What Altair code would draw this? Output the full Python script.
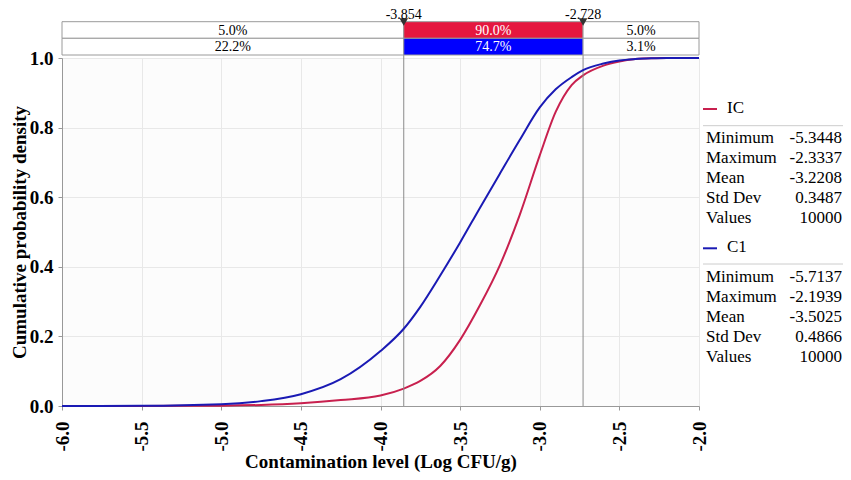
import altair as alt
import pandas as pd

# ---------------- data ----------------
ic_x = [-6.0, -5.5, -5.0, -4.75, -4.5, -4.25, -4.0, -3.854, -3.75, -3.625, -3.5, -3.375,
        -3.25, -3.125, -3.0, -2.9, -2.8, -2.728, -2.6, -2.5, -2.4, -2.3, -2.2, -2.0]
ic_p = [0.0, 0.0003, 0.001, 0.003, 0.008, 0.017, 0.03, 0.05, 0.072, 0.115, 0.19, 0.29,
        0.405, 0.55, 0.72, 0.845, 0.922, 0.95, 0.978, 0.99, 0.997, 0.9995, 1.0, 1.0]

c1_x = [-6.0, -5.5, -5.0, -4.75, -4.5, -4.25, -4.0, -3.854, -3.75, -3.625, -3.5, -3.375,
        -3.25, -3.125, -3.0, -2.9, -2.8, -2.728, -2.6, -2.5, -2.4, -2.3, -2.2, -2.0]
c1_p = [0.0, 0.0005, 0.005, 0.014, 0.034, 0.077, 0.158, 0.222, 0.285, 0.375, 0.47, 0.57,
        0.668, 0.765, 0.858, 0.91, 0.945, 0.965, 0.984, 0.993, 0.997, 0.999, 1.0, 1.0]

x_ticks = [-6.0, -5.5, -5.0, -4.5, -4.0, -3.5, -3.0, -2.5, -2.0]
y_ticks = [0.0, 0.2, 0.4, 0.6, 0.8, 1.0]

bounds = [-6.0, -3.854, -2.728, -2.0]
marker_labels = ["-3.854", "-2.728"]
ic_pct = ["5.0%", "90.0%", "5.0%"]
c1_pct = ["22.2%", "74.7%", "3.1%"]

series_names = ["IC", "C1"]
stat_names = ["Minimum", "Maximum", "Mean", "Std Dev", "Values"]
ic_stats = ["-5.3448", "-2.3337", "-3.2208", "0.3487", "10000"]
c1_stats = ["-5.7137", "-2.1939", "-3.5025", "0.4866", "10000"]

# ---------------- styling ----------------
FONT = "Liberation Serif"
IC_COLOR = "#c8204e"
C1_COLOR = "#1a1ab4"
BAR_RED = "#e5173f"
BAR_BLUE = "#0000ff"
W, H = 637, 348

ic_df = pd.DataFrame({"x": ic_x, "p": ic_p})
c1_df = pd.DataFrame({"x": c1_x, "p": c1_p})

rows = []
for name, pcts in zip(series_names, [ic_pct, c1_pct]):
    for i in range(3):
        rows.append({
            "row": name,
            "x0": bounds[i],
            "x1": bounds[i + 1],
            "xm": (bounds[i] + bounds[i + 1]) / 2,
            "kind": name if i == 1 else "tail",
            "pct": pcts[i],
        })
bar_df = pd.DataFrame(rows)
mark_df = pd.DataFrame({"x": bounds[1:3], "label": marker_labels})

x_scale = alt.Scale(domain=[-6.0, -2.0], nice=False, zero=False)
y_scale = alt.Scale(domain=[0.0, 1.0], nice=False)

minus_fix = "datum.value < 0 ? '-' + format(-datum.value, '.1f') : format(datum.value, '.1f')"

x_axis = alt.Axis(
    values=x_ticks, labelExpr=minus_fix, labelAngle=-90, labelAlign="right",
    labelBaseline="middle", labelFont=FONT, labelFontWeight="bold", labelFontSize=19,
    labelColor="black", labelPadding=11, tickSize=4, tickColor="#999999",
    domainColor="#999999", gridColor="#e8e8e8",
    title="Contamination level (Log CFU/g)", titleFont=FONT, titleFontSize=19,
    titleFontWeight="bold", titleColor="black",
    titleBaseline="alphabetic", titleY=61,
)
y_axis = alt.Axis(
    values=y_ticks, format=".1f", labelFont=FONT, labelFontWeight="bold",
    labelFontSize=19, labelColor="black", labelPadding=5, tickSize=4,
    tickColor="#999999", domainColor="#999999", gridColor="#e8e8e8",
    title="Cumulative probability density", titleFont=FONT, titleFontSize=19,
    titleFontWeight="bold", titleColor="black", titlePadding=0,
)

ic_line = alt.Chart(ic_df).mark_line(
    color=IC_COLOR, strokeWidth=2, interpolate="monotone"
).encode(
    x=alt.X("x:Q", scale=x_scale, axis=x_axis),
    y=alt.Y("p:Q", scale=y_scale, axis=y_axis),
)
c1_line = alt.Chart(c1_df).mark_line(
    color=C1_COLOR, strokeWidth=2, interpolate="monotone"
).encode(
    x=alt.X("x:Q", scale=x_scale),
    y=alt.Y("p:Q", scale=y_scale),
)

vrules = alt.Chart(mark_df).mark_rule(color="#8a8a8a", strokeWidth=1).encode(
    x=alt.X("x:Q", scale=x_scale), y=alt.value(-3), y2=alt.value(H)
)

fill_scale = alt.Scale(domain=["tail", "IC", "C1"], range=["#ffffff", BAR_RED, BAR_BLUE])
txt_scale = alt.Scale(domain=["tail", "IC", "C1"], range=["#000000", "#ffffff", "#ffffff"])

row_y = {"IC": (-36.3, -19.7), "C1": (-19.7, -3.0)}
bar_layers = []
for name in series_names:
    y0, y1 = row_y[name]
    base = alt.Chart(bar_df).transform_filter(alt.datum.row == name)
    bar_layers.append(
        base.mark_rect(stroke="#9a9a9a", strokeWidth=1).encode(
            x=alt.X("x0:Q", scale=x_scale), x2="x1:Q",
            y=alt.value(y0), y2=alt.value(y1),
            fill=alt.Fill("kind:N", scale=fill_scale, legend=None),
        )
    )
    bar_layers.append(
        base.mark_text(font=FONT, fontSize=14, baseline="middle").encode(
            x=alt.X("xm:Q", scale=x_scale),
            y=alt.value((y0 + y1) / 2 + 0.5),
            text="pct:N",
            color=alt.Color("kind:N", scale=txt_scale, legend=None),
        )
    )

triangles = alt.Chart(mark_df).mark_point(
    shape="triangle-down", filled=True, color="#333333", size=75, opacity=1
).encode(x=alt.X("x:Q", scale=x_scale), y=alt.value(-36))
tri_labels = alt.Chart(mark_df).mark_text(
    font=FONT, fontSize=14, baseline="middle", color="black"
).encode(x=alt.X("x:Q", scale=x_scale), y=alt.value(-43.5), text="label:N")

# ---------------- side statistics panel ----------------
one = pd.DataFrame({"k": [0]})
panel = []
blocks = [
    ("IC", IC_COLOR, ic_stats, 55.3, 51.0, 67.7, 85.3),
    ("C1", C1_COLOR, c1_stats, 194.3, 190.3, 206.0, 223.7),
]
for name, col, stats, ty, sy, sepy, by in blocks:
    panel.append(alt.Chart(one).mark_rule(color=col, strokeWidth=2).encode(
        x=alt.value(641), x2=alt.value(655), y=alt.value(sy)))
    panel.append(alt.Chart(one).mark_text(
        font=FONT, fontSize=17, align="left", baseline="alphabetic", color="black"
    ).encode(x=alt.value(665), y=alt.value(ty), text=alt.value(name)))
    panel.append(alt.Chart(one).mark_rule(color="#cccccc", strokeWidth=1).encode(
        x=alt.value(641), x2=alt.value(781), y=alt.value(sepy)))
    for i, (lab, val) in enumerate(zip(stat_names, stats)):
        panel.append(alt.Chart(one).mark_text(
            font=FONT, fontSize=17, align="left", baseline="alphabetic", color="black"
        ).encode(x=alt.value(644), y=alt.value(by + 20 * i), text=alt.value(lab)))
        panel.append(alt.Chart(one).mark_text(
            font=FONT, fontSize=17, align="right", baseline="alphabetic", color="black"
        ).encode(x=alt.value(780), y=alt.value(by + 20 * i), text=alt.value(val)))

chart = alt.layer(
    ic_line, vrules, c1_line, *bar_layers, triangles, tri_labels, *panel
).properties(
    width=W, height=H,
    autosize=alt.AutoSizeParams(type="none"),
    padding={"left": 54, "top": 50, "right": 144, "bottom": 66},
    background="white",
).configure_view(stroke="#d4d4d4", fill="#fcfcfc")

chart.save("out.html", embed_options={"renderer": "svg", "actions": False})
